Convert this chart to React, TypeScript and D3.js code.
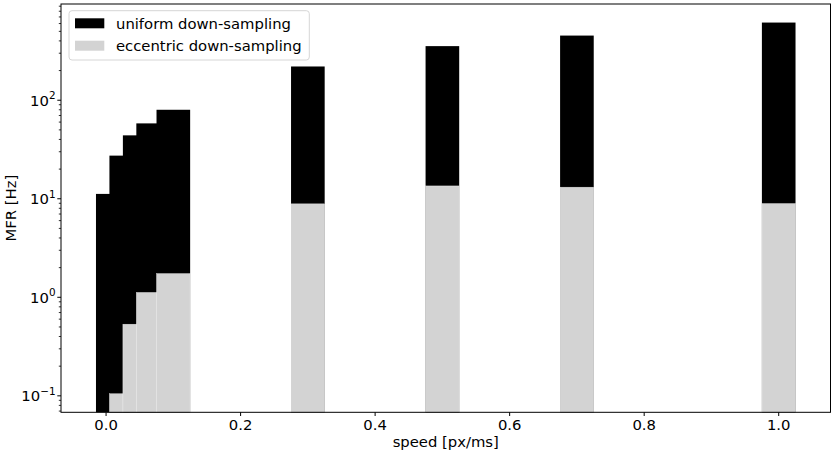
import React, { useRef, useEffect } from 'react';
import * as d3 from 'd3';

// bar positions (speed, px/ms) and mean firing rates (Hz)
const speeds = [0.01, 0.03, 0.05, 0.07, 0.1, 0.3, 0.5, 0.7, 1.0];
const uniformMFR = [11.2, 27.4, 44, 58.2, 80, 220, 354, 453, 614];
const eccentricMFR = [0, 0.105, 0.533, 1.12, 1.74, 8.88, 13.5, 13.1, 8.94];
const barWidth = 0.05;

const xTicks = [0, 0.2, 0.4, 0.6, 0.8, 1.0];
const yTickExponents = [-1, 0, 1, 2];

const seriesNames = ['uniform down-sampling', 'eccentric down-sampling'];
const seriesColors = ['#000000', '#d3d3d3'];

const W = 834;
const H = 453;
const margin = { top: 4, right: 3.5, bottom: 40.7, left: 61 };
const FONT = 'DejaVu Sans, sans-serif';
const FS = 14.8;

const App: React.FC = () => {
  const svgRef = useRef<SVGSVGElement | null>(null);

  useEffect(() => {
    d3.select(svgRef.current).selectAll('*').remove();

    const svg = d3.select(svgRef.current)
      .attr('width', W)
      .attr('height', H)
      .style('position', 'absolute')
      .style('left', '0px')
      .style('top', '0px')
      .style('background', '#fff');

    const x0 = margin.left;
    const x1 = W - margin.right;
    const y0 = margin.top;
    const y1 = H - margin.bottom;

    // scales with matplotlib style 5% margins
    const xmin = (d3.min(speeds) as number) - barWidth / 2;
    const xmax = (d3.max(speeds) as number) + barWidth / 2;
    const xpad = (xmax - xmin) * 0.05;
    const xScale = d3.scaleLinear().domain([xmin - xpad, xmax + xpad]).range([x0, x1]);

    const positives = [...uniformMFR, ...eccentricMFR].filter(v => v > 0);
    const lmin = Math.log10(d3.min(positives) as number);
    const lmax = Math.log10(d3.max(positives) as number);
    const lpad = (lmax - lmin) * 0.05;
    const yScale = d3.scaleLog()
      .domain([Math.pow(10, lmin - lpad), Math.pow(10, lmax + lpad)])
      .range([y1, y0]);

    svg.append('defs').append('clipPath').attr('id', 'plot-clip')
      .append('rect')
      .attr('x', x0).attr('y', y0)
      .attr('width', x1 - x0).attr('height', y1 - y0);

    const plot = svg.append('g').attr('clip-path', 'url(#plot-clip)');

    // bars: uniform first, eccentric drawn over them
    [uniformMFR, eccentricMFR].forEach((vals, si) => {
      const pts = speeds.map((s, i) => ({ s, v: vals[i] })).filter(d => d.v > 0);
      plot.selectAll(`.bar${si}`)
        .data(pts)
        .enter()
        .append('rect')
        .attr('class', `bar${si}`)
        .attr('x', d => xScale(d.s - barWidth / 2))
        .attr('width', d => xScale(d.s + barWidth / 2) - xScale(d.s - barWidth / 2))
        .attr('y', d => yScale(d.v))
        .attr('height', d => y1 - yScale(d.v) + 2)
        .attr('fill', seriesColors[si])
        .attr('stroke', si === 1 ? '#ffffff' : 'none')
        .attr('stroke-opacity', 0.7)
        .attr('stroke-width', 0.5);
    });

    // x axis
    const xAxis = svg.append('g');
    xTicks.forEach(t => {
      xAxis.append('line')
        .attr('x1', xScale(t)).attr('x2', xScale(t))
        .attr('y1', y1).attr('y2', y1 + 3.7)
        .attr('stroke', '#000').attr('stroke-width', 1);
      xAxis.append('text')
        .attr('x', xScale(t)).attr('y', 430)
        .attr('text-anchor', 'middle')
        .attr('font-family', FONT).attr('font-size', FS)
        .text(t.toFixed(1));
    });

    // y axis major ticks with 10^n labels
    const yAxis = svg.append('g');
    yTickExponents.forEach(e => {
      const y = yScale(Math.pow(10, e));
      yAxis.append('line')
        .attr('x1', x0 - 3.7).attr('x2', x0)
        .attr('y1', y).attr('y2', y)
        .attr('stroke', '#000').attr('stroke-width', 1);
      const txt = yAxis.append('text')
        .attr('x', x0 - 5.5).attr('y', y + 5.4)
        .attr('text-anchor', 'end')
        .attr('font-family', FONT).attr('font-size', FS);
      txt.append('tspan').text('10');
      txt.append('tspan')
        .attr('font-size', 10.4)
        .attr('dy', -6.3)
        .text(String(e).replace('-', '\u2212'));
    });

    // y axis minor ticks
    const [dmin, dmax] = yScale.domain();
    yScale.ticks()
      .filter(v => v >= dmin && v <= dmax)
      .filter(v => Math.abs(Math.log10(v) - Math.round(Math.log10(v))) > 1e-6)
      .forEach(v => {
        yAxis.append('line')
          .attr('x1', x0 - 2.2).attr('x2', x0)
          .attr('y1', yScale(v)).attr('y2', yScale(v))
          .attr('stroke', '#000').attr('stroke-width', 0.8);
      });

    // spines
    svg.append('rect')
      .attr('x', x0).attr('y', y0)
      .attr('width', x1 - x0).attr('height', y1 - y0)
      .attr('fill', 'none')
      .attr('stroke', '#000').attr('stroke-width', 1);

    // axis labels
    svg.append('text')
      .attr('x', (x0 + x1) / 2).attr('y', 446.7)
      .attr('text-anchor', 'middle')
      .attr('font-family', FONT).attr('font-size', FS)
      .text('speed [px/ms]');

    svg.append('text')
      .attr('transform', `translate(16, ${(y0 + y1) / 2}) rotate(-90)`)
      .attr('text-anchor', 'middle')
      .attr('font-family', FONT).attr('font-size', FS)
      .text('MFR [Hz]');

    // legend
    const legend = svg.append('g');
    legend.append('rect')
      .attr('x', 69).attr('y', 10.7)
      .attr('width', 240.3).attr('height', 49.3)
      .attr('rx', 3)
      .attr('fill', '#fff').attr('fill-opacity', 0.8)
      .attr('stroke', '#d6d6d6').attr('stroke-width', 1);
    seriesNames.forEach((name, i) => {
      const cy = 23.3 + i * 22.4;
      legend.append('rect')
        .attr('x', 75).attr('y', cy - 5)
        .attr('width', 29.3).attr('height', 10)
        .attr('fill', seriesColors[i]);
      legend.append('text')
        .attr('x', 116).attr('y', cy + 5.3)
        .attr('font-family', FONT).attr('font-size', FS)
        .text(name);
    });
  }, []);

  return (
    <div>
      <svg ref={svgRef}></svg>
    </div>
  );
};

export default App;
